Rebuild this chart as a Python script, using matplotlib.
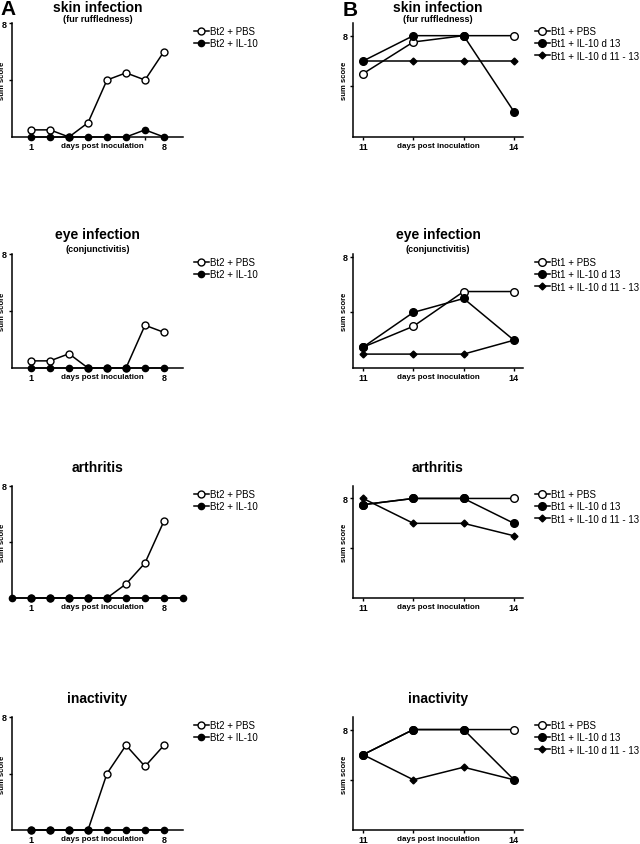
import matplotlib
matplotlib.use("Agg")
import matplotlib.pyplot as plt

plt.rcParams['font.family'] = ['Liberation Sans', 'DejaVu Sans']

W, H = 640, 845

# ---- data: panel A (Bt2, days 1-8) ----
days_A = [1, 2, 3, 4, 5, 6, 7, 8]
days_A_wide = [0, 1, 2, 3, 4, 5, 6, 7, 8, 9]
skin_A_pbs = [0.5, 0.5, 0, 1, 4, 4.5, 4, 6]
skin_A_il10 = [0, 0, 0, 0, 0, 0, 0.5, 0]
eye_A_pbs = [0.5, 0.5, 1, 0, 0, 0, 3, 2.5]
eye_A_il10 = [0, 0, 0, 0, 0, 0, 0, 0]
arth_A_pbs = [0, 0, 0, 0, 0, 1, 2.5, 5.5]
arth_A_il10 = [0, 0, 0, 0, 0, 0, 0, 0, 0, 0]
inact_A_pbs = [0, 0, 0, 0, 4, 6, 4.5, 6]
inact_A_il10 = [0, 0, 0, 0, 0, 0, 0, 0]

# ---- data: panel B (Bt1, days 11-14) ----
days_B = [11, 12, 13, 14]
skin_B_pbs = [5, 7.5, 8, 8]
skin_B_d13 = [6, 8, 8, 2]
skin_B_d1113 = [6, 6, 6, 6]
eye_B_pbs = [1.5, 3, 5.5, 5.5]
eye_B_d13 = [1.5, 4, 5, 2]
eye_B_d1113 = [1, 1, 1, 2]
arth_B_pbs = [7.5, 8, 8, 8]
arth_B_d13 = [7.5, 8, 8, 6]
arth_B_d1113 = [8, 6, 6, 5]
inact_B_pbs = [6, 8, 8, 8]
inact_B_d13 = [6, 8, 8, 4]
inact_B_d1113 = [6, 4, 5, 4]

titles = ['skin infection', 'eye infection', 'arthritis', 'inactivity']
subtitles = ['(fur ruffledness)', '(conjunctivitis)', '', '']
labels_A = ['Bt2 + PBS', 'Bt2 + IL-10']
labels_B = ['Bt1 + PBS', 'Bt1 + IL-10 d 13', 'Bt1 + IL-10 d 11 - 13']

rows_A = [
    (days_A, skin_A_pbs, days_A, skin_A_il10),
    (days_A, eye_A_pbs, days_A, eye_A_il10),
    (days_A, arth_A_pbs, days_A_wide, arth_A_il10),
    (days_A, inact_A_pbs, days_A, inact_A_il10),
]
rows_B = [
    (skin_B_pbs, skin_B_d13, skin_B_d1113),
    (eye_B_pbs, eye_B_d13, eye_B_d1113),
    (arth_B_pbs, arth_B_d13, arth_B_d1113),
    (inact_B_pbs, inact_B_d13, inact_B_d1113),
]

# layout (pixels)
row_top = [24, 255, 487, 718]
row_bot = [138, 369, 599, 831]
title_off = [16.5, 19.5, 19, 18.5]
ymax_B = [9, 8.2, 9, 9]


def rect(l, t, r, b):
    return [l / W, 1 - b / H, (r - l) / W, (b - t) / H]


def style(ax, xlim, ylim, xt, xtl, ylab_x, xlab_x):
    ax.set_xlim(*xlim)
    ax.set_ylim(*ylim)
    for s in ['top', 'right']:
        ax.spines[s].set_visible(False)
    for s in ['left', 'bottom']:
        ax.spines[s].set_linewidth(1.1)
    ax.set_xticks(xt)
    ax.set_xticklabels(xtl)
    ax.set_yticks([4, 8])
    ax.set_yticklabels(['', '8'])
    ax.tick_params(direction='out', length=2.5, width=1.0, pad=1.2,
                   labelsize=6.5)
    for t in ax.get_xticklabels() + ax.get_yticklabels():
        t.set_fontweight('bold')
    ax.set_ylabel('sum score', fontsize=5.5, fontweight='bold')
    ax.yaxis.set_label_coords(ylab_x, 0.5)
    ax.annotate('days post inoculation', xy=(xlab_x, 0), xycoords='axes fraction',
                xytext=(0, -6.3), textcoords='offset points', ha='center',
                va='center', fontsize=5.8, fontweight='bold')


fig = plt.figure(figsize=(W / 100, H / 100), dpi=100)
fig.patch.set_facecolor('white')

lw = 1.1
for i in range(4):
    # ----- panel A -----
    ax = fig.add_axes(rect(12, row_top[i], 183, row_bot[i]))
    xp, yp, xi, yi = rows_A[i]
    ax.plot(xp, yp, '-o', color='black', lw=lw, ms=5, mfc='white', mec='black',
            mew=1.0, clip_on=False, zorder=3, label=labels_A[0])
    ax.plot(xi, yi, '-o', color='black', lw=lw, ms=4.5, mfc='black', mec='black',
            clip_on=False, zorder=4, label=labels_A[1])
    style(ax, (0, 9), (0, 8), days_A, ['1', '', '', '', '', '', '', '8'], -0.036, 0.53)
    ax.legend(loc='upper left', bbox_to_anchor=(194 / W, 1 - (row_top[i] + 3) / H),
              bbox_transform=fig.transFigure, frameon=False, borderaxespad=0,
              borderpad=0, handlelength=1.5, handletextpad=0.15, labelspacing=0.25,
              fontsize=7)
    cx = (12 + 183) / 2
    fig.text(cx / W, 1 - (row_top[i] - title_off[i]) / H, titles[i], ha='center',
             va='center', fontsize=10, fontweight='bold')
    if subtitles[i]:
        fig.text(cx / W, 1 - (row_top[i] - 5) / H, subtitles[i], ha='center',
                 va='center', fontsize=6.5, fontweight='bold')

    # ----- panel B -----
    ax = fig.add_axes(rect(353, row_top[i], 523, row_bot[i]))
    pbs, d13, d1113 = rows_B[i]
    ax.plot(days_B, pbs, '-o', color='black', lw=lw, ms=5.5, mfc='white', mec='black',
            mew=1.0, clip_on=False, zorder=3, label=labels_B[0])
    ax.plot(days_B, d1113, '-D', color='black', lw=lw, ms=3.5, mfc='black',
            clip_on=False, zorder=4, label=labels_B[2])
    ax.plot(days_B, d13, '-o', color='black', lw=lw, ms=5.5, mfc='black',
            clip_on=False, zorder=5, label=labels_B[1])
    style(ax, (10.8, 14.18), (0, ymax_B[i]), days_B, ['11', '', '', '14'], -0.032, 0.5)
    h, l = ax.get_legend_handles_labels()
    order = [0, 2, 1]
    ax.legend([h[k] for k in order], [l[k] for k in order], loc='upper left',
              bbox_to_anchor=(535 / W, 1 - (row_top[i] + 3) / H),
              bbox_transform=fig.transFigure, frameon=False, borderaxespad=0,
              borderpad=0, handlelength=1.5, handletextpad=0.15, labelspacing=0.25,
              fontsize=7)
    cx = (353 + 523) / 2
    fig.text(cx / W, 1 - (row_top[i] - title_off[i]) / H, titles[i], ha='center',
             va='center', fontsize=10, fontweight='bold')
    if subtitles[i]:
        fig.text(cx / W, 1 - (row_top[i] - 5) / H, subtitles[i], ha='center',
                 va='center', fontsize=6.5, fontweight='bold')

fig.text(0 / W, 1 - 0 / H, 'A', ha='left', va='top', fontsize=15, fontweight='bold')
fig.text(343 / W, 1 - 1 / H, 'B', ha='left', va='top', fontsize=15, fontweight='bold')

fig.savefig('out.png', dpi=100)
